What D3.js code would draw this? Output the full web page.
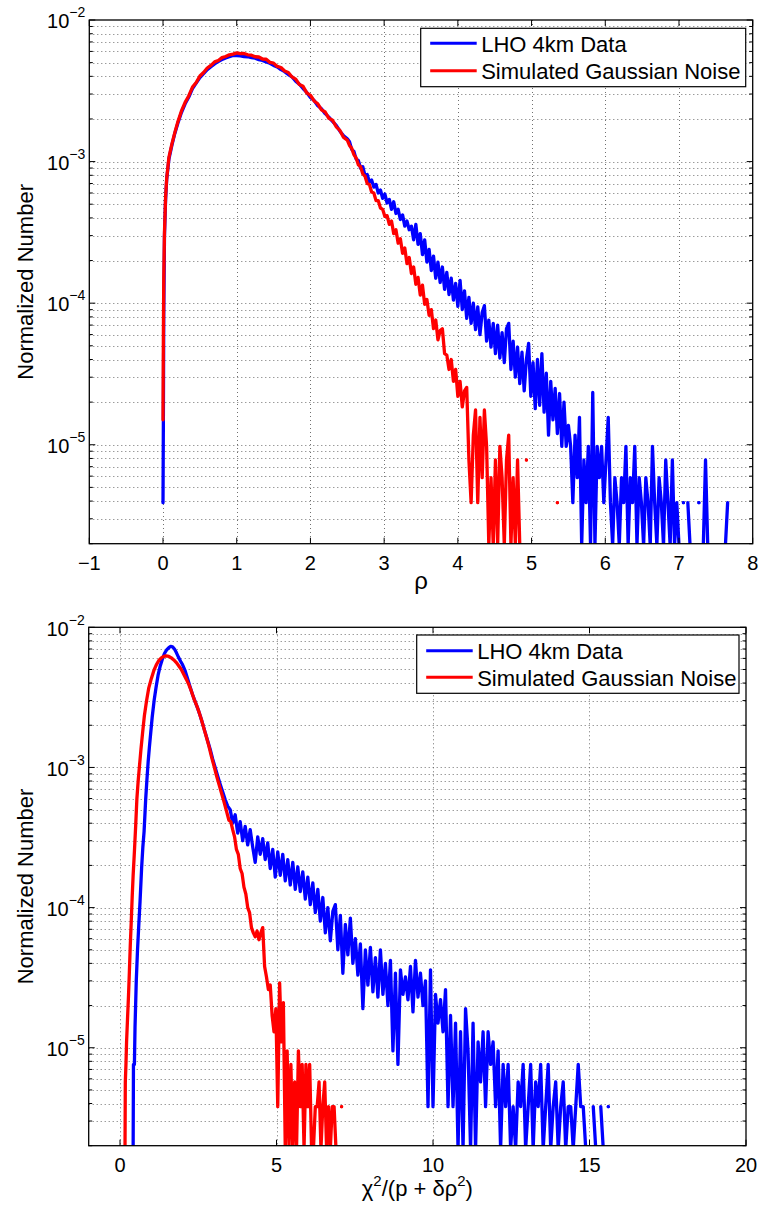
<!DOCTYPE html>
<html><head><meta charset="utf-8">
<script src="https://cdn.jsdelivr.net/npm/d3@7"></script>
<style>
body{margin:0;background:#fff}
text{font-family:"Liberation Sans",Arial,Helvetica,sans-serif;fill:#000}
</style></head>
<body><svg id="c" width="761" height="1210"></svg>
<script>
// ---------------- DATA ----------------
// Top panel (rho)
const rhoTicks = [-1,0,1,2,3,4,5,6,7,8];
const rhoBodyX = [0,0.005,0.01,0.02,0.035,0.05,0.08,0.12,0.16,0.2,0.25,0.3,0.35,0.4,0.45,0.5,0.55,0.6,0.65,0.7,0.75,0.8,0.85,0.9,0.95,1.0,1.05,1.1,1.15,1.2,1.25,1.3,1.35,1.4,1.45,1.5,1.55,1.6,1.65,1.7,1.75,1.8,1.85,1.9,1.95,2.0,2.05,2.1,2.15,2.2,2.25,2.3,2.35,2.4,2.45];
const rhoBlueBodyY = [3.9e-6,1.5e-5,8e-5,3.0e-4,5.4e-4,7.5e-4,1.04e-3,1.3e-3,1.58e-3,1.86e-3,2.22e-3,2.56e-3,2.86e-3,3.28e-3,3.58e-3,3.92e-3,4.18e-3,4.46e-3,4.68e-3,4.9e-3,5.1e-3,5.25e-3,5.4e-3,5.5e-3,5.62e-3,5.6e-3,5.58e-3,5.52e-3,5.5e-3,5.42e-3,5.38e-3,5.25e-3,5.18e-3,5.05e-3,4.95e-3,4.78e-3,4.66e-3,4.46e-3,4.32e-3,4.12e-3,3.96e-3,3.7e-3,3.52e-3,3.28e-3,3.08e-3,2.84e-3,2.7e-3,2.48e-3,2.36e-3,2.18e-3,2.06e-3,1.92e-3,1.8e-3,1.64e-3,1.52e-3];
const rhoRedBodyY = [1.5e-5,6e-5,1.5e-4,3.2e-4,5.6e-4,7.6e-4,1.07e-3,1.33e-3,1.6e-3,1.9e-3,2.28e-3,2.62e-3,2.92e-3,3.36e-3,3.62e-3,4.02e-3,4.26e-3,4.58e-3,4.78e-3,5.06e-3,5.18e-3,5.42e-3,5.52e-3,5.68e-3,5.74e-3,5.86e-3,5.78e-3,5.8e-3,5.68e-3,5.64e-3,5.5e-3,5.48e-3,5.3e-3,5.28e-3,5.02e-3,4.96e-3,4.7e-3,4.62e-3,4.36e-3,4.26e-3,3.96e-3,3.82e-3,3.5e-3,3.4e-3,3.06e-3,2.94e-3,2.68e-3,2.56e-3,2.32e-3,2.24e-3,2.02e-3,1.96e-3,1.76e-3,1.66e-3,1.48e-3];
const rhoTailStart = 2.5, rhoTailStep = 0.03;
const rhoBlueTailY = [
1.45e-3,1.38e-3,1.22e-3,1.18e-3,1.04e-3,1.02e-3,9.0e-4,9.2e-4,8.0e-4,8.1e-4,
7.2e-4,7.4e-4,6.6e-4,6.9e-4,6.0e-4,6.3e-4,5.5e-4,5.9e-4,5.1e-4,5.4e-4,
4.6e-4,5.2e-4,4.3e-4,4.6e-4,3.9e-4,4.2e-4,3.5e-4,3.8e-4,3.3e-4,3.5e-4,
2.8e-4,3.6e-4,2.6e-4,3.1e-4,2.2e-4,2.8e-4,1.95e-4,2.4e-4,1.7e-4,2.15e-4,
1.5e-4,1.95e-4,1.4e-4,1.8e-4,1.25e-4,1.65e-4,1.15e-4,1.5e-4,1.05e-4,1.38e-4,
9.5e-5,1.45e-4,9.0e-5,1.22e-4,7.8e-5,1.1e-4,7.2e-5,1.0e-4,6.5e-5,9.4e-5,
6.0e-5,8.6e-5,9.6e-5,5.4e-5,7.6e-5,4.9e-5,7.2e-5,4.4e-5,7.0e-5,4.1e-5,
6.2e-5,3.8e-5,6.6e-5,7.2e-5,3.4e-5,5.4e-5,3.0e-5,4.9e-5,2.7e-5,4.5e-5,
2.4e-5,4.0e-5,5.2e-5,2.2e-5,3.8e-5,1.8e-5,4.0e-5,1.9e-5,4.4e-5,1.7e-5,
3.2e-5,1.17e-5,2.8e-5,1.5e-5,2.5e-5,1.2e-5,2.3e-5,9.75e-6,2.0e-5,9.75e-6,
1.37e-5,9.75e-6,3.9e-6,1.17e-5,5.85e-6,1.56e-5,1.95e-6,7.8e-6,3.9e-6,9.75e-6,
1.95e-6,2.34e-5,1.95e-6,9.75e-6,5.85e-6,9.75e-6,3.9e-6,7.8e-6,1.56e-5,3.9e-6,
1.95e-6,5.85e-6,3.9e-6,1.95e-6,5.85e-6,3.9e-6,9.75e-6,1.95e-6,5.85e-6,3.9e-6,
9.75e-6,1.95e-6,5.85e-6,3.9e-6,1.95e-6,5.85e-6,3.9e-6,1.95e-6,9.75e-6,3.9e-6,
1.95e-6,5.85e-6,3.9e-6,1.95e-6,7.8e-6,3.9e-6,1.95e-6,7.8e-6,1.95e-6,3.9e-6,
1.95e-6,null,3.9e-6,null,3.9e-6,1.95e-6,null,null,null,3.9e-6,
null,1.95e-6,7.8e-6,1.95e-6,null,null,null,null,null,null,
null,1.95e-6,3.9e-6,null];
const rhoRedTailY = [
1.42e-3,1.3e-3,1.24e-3,1.12e-3,1.06e-3,9.5e-4,9.2e-4,8.2e-4,7.9e-4,7.0e-4,
6.9e-4,6.1e-4,6.0e-4,5.3e-4,5.3e-4,4.7e-4,4.6e-4,4.1e-4,4.15e-4,3.6e-4,
3.8e-4,3.1e-4,3.3e-4,2.65e-4,2.85e-4,2.25e-4,2.45e-4,1.9e-4,2.1e-4,1.62e-4,
1.8e-4,1.36e-4,1.52e-4,1.14e-4,1.34e-4,9.8e-5,1.06e-4,8.2e-5,9.0e-5,6.6e-5,
7.6e-5,5.5e-5,6.4e-5,6.6e-5,4.4e-5,4.3e-5,3.4e-5,4.0e-5,2.8e-5,3.4e-5,
2.2e-5,2.8e-5,1.85e-5,2.4e-5,
2.54e-5,7.8e-6,3.9e-6,1.17e-5,1.76e-5,3.9e-6,1.56e-5,5.85e-6,1.76e-5,9.75e-6,
1.95e-6,5.85e-6,1.95e-6,7.8e-6,1.95e-6,9.75e-6,5.85e-6,1.95e-6,7.8e-6,1.17e-5,
1.95e-6,5.85e-6,1.95e-6,7.8e-6,1.95e-6,null,
null,7.8e-6,null,null,null,null,null,null,null,null,null,null,null,null,null,3.9e-6];

// Bottom panel (chi^2 / (p + delta rho^2))
const chiTicks = [0,5,10,15,20];
const chiBlueBodyX = [0.42,0.43,0.46,0.48,0.52,0.56,0.6,0.64,0.69,0.73,0.77,0.82,0.86,0.9,0.94,0.98,1.03,1.09,1.15,1.22,1.28,1.35,1.42,1.49,1.56,1.62,1.68,1.74,1.8,1.87,1.94,2.0,2.08,2.16,2.24,2.32,2.4,2.48,2.56,2.64,2.72,2.8,2.88,2.96,3.04,3.12,3.2,3.28,3.36,3.44];
const chiBlueBodyY = [1.9e-6,7.6e-6,7.6e-6,1.4e-5,3.0e-5,5.0e-5,7.5e-5,1.1e-4,1.9e-4,2.7e-4,3.5e-4,5.9e-4,8.2e-4,1.1e-3,1.4e-3,1.75e-3,2.3e-3,3.0e-3,3.7e-3,4.6e-3,5.25e-3,5.9e-3,6.5e-3,6.9e-3,7.15e-3,7.3e-3,7.25e-3,7.0e-3,6.6e-3,6.1e-3,5.7e-3,5.4e-3,4.9e-3,4.3e-3,3.75e-3,3.3e-3,2.95e-3,2.65e-3,2.35e-3,2.05e-3,1.78e-3,1.55e-3,1.35e-3,1.15e-3,1.0e-3,8.7e-4,7.6e-4,6.7e-4,5.9e-4,5.3e-4];
const chiRedBodyX = [0.16,0.17,0.19,0.21,0.24,0.27,0.3,0.33,0.36,0.39,0.42,0.46,0.5,0.54,0.58,0.62,0.67,0.72,0.78,0.85,0.92,1.0,1.08,1.16,1.24,1.32,1.4,1.48,1.56,1.64,1.72,1.8,1.88,1.96,2.04,2.12,2.2,2.28,2.36,2.44,2.52,2.6,2.68,2.76,2.84,2.92,3.0,3.08,3.16,3.24,3.32,3.4,3.48];
const chiRedBodyY = [1.9e-6,5.7e-6,7.6e-6,1.1e-5,1.6e-5,2.3e-5,3.5e-5,5.5e-5,8.0e-5,1.2e-4,1.7e-4,2.5e-4,3.8e-4,6.0e-4,8.0e-4,1.01e-3,1.35e-3,1.75e-3,2.35e-3,3.0e-3,3.7e-3,4.3e-3,4.9e-3,5.4e-3,5.8e-3,6.05e-3,6.2e-3,6.25e-3,6.2e-3,6.05e-3,5.85e-3,5.6e-3,5.3e-3,5.0e-3,4.6e-3,4.25e-3,3.9e-3,3.5e-3,3.1e-3,2.8e-3,2.5e-3,2.2e-3,1.9e-3,1.65e-3,1.42e-3,1.2e-3,1.03e-3,8.8e-4,7.6e-4,6.6e-4,5.7e-4,4.9e-4,4.2e-4];
const chiBlueTailStart = 3.52, chiBlueTailStep = 0.08;
const chiBlueTailY = [
5.0e-4,4.0e-4,4.6e-4,3.4e-4,4.1e-4,3.0e-4,3.8e-4,2.8e-4,3.6e-4,2.7e-4,
2.1e-4,3.2e-4,2.4e-4,3.1e-4,2.2e-4,2.9e-4,1.9e-4,2.6e-4,1.65e-4,2.5e-4,
1.7e-4,2.4e-4,1.55e-4,2.2e-4,1.45e-4,2.1e-4,1.35e-4,1.95e-4,1.3e-4,1.8e-4,
1.15e-4,1.65e-4,1.05e-4,1.5e-4,9.2e-5,1.35e-4,8.0e-5,1.18e-4,6.6e-5,1.0e-4,
5.8e-5,9.4e-5,1.05e-4,5.0e-5,8.8e-5,3.4e-5,7.6e-5,4.6e-5,8.4e-5,4.0e-5,
6.0e-5,3.3e-5,5.5e-5,1.9e-5,5.0e-5,2.8e-5,5.2e-5,2.5e-5,4.4e-5,2.3e-5,
5.0e-5,2.4e-5,4.0e-5,2.0e-5,4.2e-5,9.5e-6,3.4e-5,7.6e-6,3.6e-5,2.4e-5,
3.2e-5,2.2e-5,3.8e-5,1.8e-5,4.2e-5,2.3e-5,3.4e-5,2.0e-5,3.0e-5,3.8e-6,
3.6e-5,3.8e-6,2.4e-5,1.5e-5,2.2e-5,1.3e-5,2.6e-5,3.8e-6,1.7e-5,3.8e-6,
1.5e-5,1.9e-6,1.3e-5,1.9e-6,1.9e-5,9.5e-6,1.9e-6,1.5e-5,1.9e-6,1.1e-5,
5.7e-6,1.3e-5,3.8e-6,1.3e-5,7.6e-6,1.1e-5,3.8e-6,9.5e-6,1.9e-6,7.6e-6,
3.8e-6,7.6e-6,1.9e-6,3.8e-6,1.9e-6,5.7e-6,3.8e-6,7.6e-6,1.9e-6,3.8e-6,
7.6e-6,1.9e-6,5.7e-6,3.8e-6,7.6e-6,1.9e-6,3.8e-6,7.6e-6,1.9e-6,3.8e-6,
5.7e-6,1.9e-6,3.8e-6,5.7e-6,1.9e-6,3.8e-6,3.8e-6,1.9e-6,3.8e-6,7.6e-6,
3.8e-6,3.8e-6,1.9e-6,null,null,3.8e-6,1.9e-6,null,3.8e-6,1.9e-6,
null,3.8e-6,null];
const chiRedTailStart = 3.54, chiRedTailStep = 0.06;
const chiRedTailY = [
4.1e-4,3.6e-4,3.2e-4,2.6e-4,2.4e-4,1.9e-4,1.75e-4,1.4e-4,1.25e-4,1.0e-4,
9.2e-5,7.2e-5,6.6e-5,6.2e-5,6.8e-5,5.9e-5,6.6e-5,7.2e-5,3.8e-5,3.2e-5,
2.6e-5,2.8e-5,1.7e-5,1.3e-5,1.9e-5,3.8e-6,2.9e-5,1.1e-5,2.1e-5,1.9e-6,
9.5e-6,1.9e-6,7.6e-6,1.9e-6,5.7e-6,1.9e-6,9.5e-6,3.8e-6,7.6e-6,1.9e-6,
7.6e-6,3.8e-6,7.6e-6,1.9e-6,1.9e-6,3.8e-6,3.8e-6,5.7e-6,1.9e-6,3.8e-6,
5.7e-6,1.9e-6,3.8e-6,1.9e-6,3.8e-6,3.8e-6,1.9e-6,null,null,3.8e-6];

const yDomain = [2e-6, 1e-2];
const yMajorExp = [-5, -4, -3, -2];
const legendLabels = ["LHO 4km Data", "Simulated Gaussian Noise"];

// ---------------- STYLE ----------------
const BLUE = "#0000ff", RED = "#ff0000";
const LW = 3.3;
const svg = d3.select("#c");

function buildSeries(bx, by, start, step, ty) {
  const pts = bx.map((xv, i) => [xv, by[i]]);
  ty.forEach((v, i) => pts.push([+(start + i * step).toFixed(4), v]));
  return pts;
}

function panel(cfg) {
  const {id, left, right, top, bottom, xDomain, xTicks, series, legend, xLabel} = cfg;
  const x = d3.scaleLinear().domain(xDomain).range([left, right]);
  const y = d3.scaleLog().domain(yDomain).range([bottom, top]);
  const g = svg.append("g");

  g.append("clipPath").attr("id", id + "clip").append("rect")
    .attr("x", left).attr("y", top).attr("width", right - left).attr("height", bottom - top);

  // grid
  const gridG = g.append("g").attr("stroke", "#000").attr("stroke-width", 0.8)
    .attr("stroke-dasharray", "1 3").attr("opacity", 0.7);
  const yt = y.ticks();
  yt.forEach(v => {
    const yy = Math.round(y(v)) + 0.5;
    if (yy > top + 1 && yy < bottom - 1)
      gridG.append("line").attr("x1", left).attr("x2", right).attr("y1", yy).attr("y2", yy);
  });
  xTicks.forEach(v => {
    const xx = Math.round(x(v)) + 0.5;
    if (xx > left + 1 && xx < right - 1)
      gridG.append("line").attr("x1", xx).attr("x2", xx).attr("y1", top).attr("y2", bottom);
  });

  // data lines
  const line = d3.line().defined(d => d[1] != null).x(d => x(d[0])).y(d => y(d[1]));
  const dataG = g.append("g").attr("clip-path", `url(#${id}clip)`);
  series.forEach(s => {
    dataG.append("path").datum(s.pts).attr("d", line).attr("fill", "none")
      .attr("stroke", s.color).attr("stroke-width", LW)
      .attr("stroke-linejoin", "round").attr("stroke-linecap", "round");
    const iso = s.pts.filter((d, i, a) => d[1] != null &&
      (i === 0 || a[i - 1][1] == null) && (i === a.length - 1 || a[i + 1][1] == null));
    dataG.selectAll(null).data(iso).enter().append("circle")
      .attr("cx", d => x(d[0])).attr("cy", d => y(d[1])).attr("r", 1.6).attr("fill", s.color);
  });

  // box
  g.append("rect").attr("x", left).attr("y", top).attr("width", right - left).attr("height", bottom - top)
    .attr("fill", "none").attr("stroke", "#000").attr("stroke-width", 1.3);

  // ticks
  const tickG = g.append("g").attr("stroke", "#000").attr("stroke-width", 1);
  xTicks.forEach(v => {
    const xx = x(v);
    tickG.append("line").attr("x1", xx).attr("x2", xx).attr("y1", bottom).attr("y2", bottom - 6);
    tickG.append("line").attr("x1", xx).attr("x2", xx).attr("y1", top).attr("y2", top + 6);
  });
  yt.forEach(v => {
    const yy = y(v);
    const major = Math.abs(Math.log10(v) - Math.round(Math.log10(v))) < 1e-9;
    const len = major ? 6 : 3.5;
    tickG.append("line").attr("x1", left).attr("x2", left + len).attr("y1", yy).attr("y2", yy);
    tickG.append("line").attr("x1", right).attr("x2", right - len).attr("y1", yy).attr("y2", yy);
  });

  // x tick labels
  xTicks.forEach(v => {
    g.append("text").attr("x", x(v)).attr("y", bottom + 26).attr("text-anchor", "middle")
      .attr("font-size", 20).text(v < 0 ? "\u2212" + Math.abs(v) : String(v));
  });
  // y tick labels
  yMajorExp.forEach(e => {
    const t = g.append("text").attr("x", left - 4).attr("y", y(Math.pow(10, e)) + 8.3)
      .attr("text-anchor", "end").attr("font-size", 20);
    t.append("tspan").text("10");
    t.append("tspan").attr("dy", -11).attr("font-size", 14).text("\u2212" + Math.abs(e));
  });

  // y label
  g.append("text").attr("transform", `translate(32.5,${(top + bottom) / 2}) rotate(-90)`)
    .attr("text-anchor", "middle").attr("font-size", 22).text("Normalized Number");

  // x label
  xLabel(g, (left + right) / 2, bottom);

  // legend
  const L = legend;
  g.append("rect").attr("x", L.x).attr("y", L.y).attr("width", L.w).attr("height", L.h)
    .attr("fill", "#fff").attr("stroke", "#000").attr("stroke-width", 1.2);
  series.forEach((s, i) => {
    const ly = L.y + L.row0 + i * L.rowH;
    g.append("line").attr("x1", L.x + 9.5).attr("x2", L.x + 56).attr("y1", ly).attr("y2", ly)
      .attr("stroke", s.color).attr("stroke-width", 3);
    g.append("text").attr("x", L.x + 60.5).attr("y", ly + 8.2).attr("font-size", 22).text(legendLabels[i]);
  });
}

panel({
  id: "p1", left: 89.3, right: 752.7, top: 20, bottom: 543.7,
  xDomain: [-1, 8], xTicks: rhoTicks,
  series: [
    {color: BLUE, pts: buildSeries(rhoBodyX, rhoBlueBodyY, rhoTailStart, rhoTailStep, rhoBlueTailY)},
    {color: RED, pts: buildSeries(rhoBodyX, rhoRedBodyY, rhoTailStart, rhoTailStep, rhoRedTailY)}
  ],
  legend: {x: 420.7, y: 28.3, w: 325, h: 58.4, row0: 15, rowH: 27.4},
  xLabel: (g, cx, b) => g.append("text").attr("x", cx).attr("y", b + 45).attr("text-anchor", "middle")
    .attr("font-size", 24).text("\u03c1")
});

panel({
  id: "p2", left: 88.7, right: 746, top: 627.3, bottom: 1145.7,
  xDomain: [-1, 20], xTicks: chiTicks,
  series: [
    {color: BLUE, pts: buildSeries(chiBlueBodyX, chiBlueBodyY, chiBlueTailStart, chiBlueTailStep, chiBlueTailY)},
    {color: RED, pts: buildSeries(chiRedBodyX, chiRedBodyY, chiRedTailStart, chiRedTailStep, chiRedTailY)}
  ],
  legend: {x: 416.7, y: 635, w: 322.3, h: 58.3, row0: 15.7, rowH: 26.6},
  xLabel: (g, cx, b) => {
    const t = g.append("text").attr("x", cx).attr("y", b + 50).attr("text-anchor", "middle").attr("font-size", 22);
    t.append("tspan").text("\u03c7");
    t.append("tspan").attr("dy", -10).attr("font-size", 15).text("2");
    t.append("tspan").attr("dy", 10).text("/(p + \u03b4\u03c1");
    t.append("tspan").attr("dy", -10).attr("font-size", 15).text("2");
    t.append("tspan").attr("dy", 10).text(")");
  }
});
</script>
</body></html>
